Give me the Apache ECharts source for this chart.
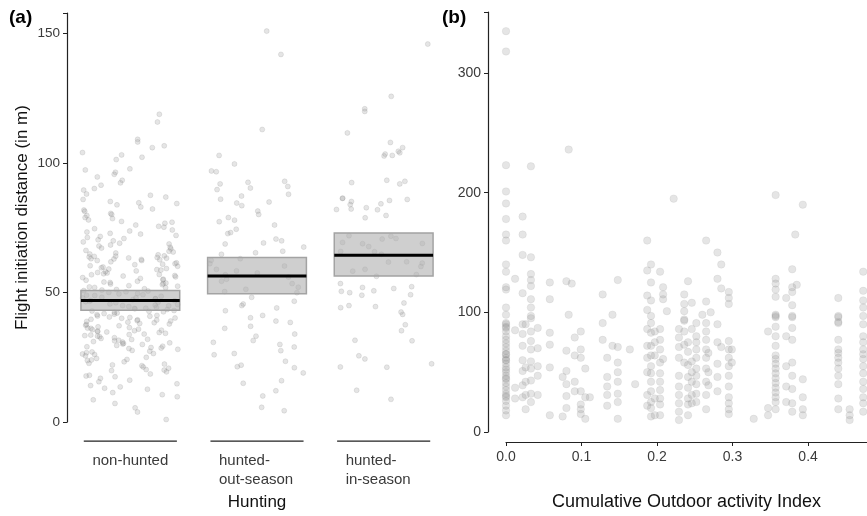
<!DOCTYPE html>
<html>
<head>
<meta charset="utf-8">
<script src="https://cdn.jsdelivr.net/npm/echarts@6/dist/echarts.min.js"></script>
<style>
  html, body { margin: 0; padding: 0; background: #fff; }
  #chart { width: 867px; height: 516px; }
</style>
</head>
<body>
<div id="chart"></div>
<script>
// panel (a): hunting categories
const categories = ['non-hunted', 'hunted-\nout-season', 'hunted-\nin-season'];

// FID, one list per category
const fidNonHunted = [
  118.9, 115.9, 109.2, 108.2, 106.7, 106.0, 104.1, 103.2, 102.3, 101.4, 97.8, 97.4, 96.5, 95.7, 94.7, 93.4, 92.4, 91.5, 90.2, 89.6,
  88.1, 87.6, 86.9, 86.0, 85.2, 84.7, 84.4, 83.9, 83.1, 82.3, 81.9, 81.4, 80.6, 80.2, 79.8, 79.0, 78.6, 78.1, 77.5, 77.2,
  76.8, 76.1, 75.6, 75.3, 74.7, 74.2, 73.8, 73.4, 72.9, 72.6, 72.1, 71.7, 71.3, 70.9, 70.4, 70.0, 69.6, 69.1, 68.8, 68.4,
  68.0, 67.5, 67.2, 66.9, 66.3, 66.0, 65.7, 65.3, 64.9, 64.6, 64.1, 63.8, 63.4, 63.0, 62.7, 62.4,
  64.2, 63.1, 61.5, 61.2, 60.8, 59.3, 58.9, 58.7, 57.6, 56.4, 56.1, 55.8, 54.1, 53.7, 53.5, 52.2, 51.9, 50.3, 50.1, 49.7,
  48.2, 47.9, 47.3, 46.5, 45.2, 44.9, 44.6, 43.1, 42.8, 41.7, 41.2, 40.4, 39.5, 38.9, 38.1, 37.7, 36.2, 35.9, 35.1, 34.3,
  33.6, 33.2, 32.0, 31.4, 30.2, 29.6, 28.4, 27.1, 26.5, 25.0, 23.8, 22.7, 21.3, 19.9, 18.6, 16.2, 14.8, 13.1, 11.4, 7.2, 3.9,
  63.6, 62.4, 60.2, 59.9, 58.1, 57.3, 56.9, 55.2, 54.8, 53.1, 52.7, 51.5, 51.0, 49.2, 48.6, 48.0, 46.9, 46.1, 45.6, 44.0,
  43.5, 42.4, 41.9, 40.9, 40.1, 39.0, 38.4, 37.2, 36.8, 35.5, 34.8, 34.0, 33.0, 31.9, 31.1, 30.6, 29.1, 28.8, 27.7, 26.1,
  24.6, 24.2, 22.1, 20.8, 19.4, 17.5, 15.6, 12.7, 9.8,
  64.0, 62.8, 61.9, 60.4, 59.6, 58.4, 57.0, 55.5, 54.4, 53.9, 52.5, 51.2, 50.6, 49.5, 48.9, 47.6, 47.0, 46.3, 45.0, 44.3,
  43.8, 42.6, 42.1, 41.0, 40.6, 39.7, 39.2, 38.6, 37.4, 36.5, 35.7, 35.3, 34.6, 33.4, 32.6, 31.6, 30.9, 30.0, 29.3, 28.1,
  27.4, 26.8, 25.6, 23.3, 21.8, 20.3, 18.1, 16.9, 14.1, 10.6, 5.5,
  63.3, 61.0, 59.1, 57.8, 56.6, 55.0, 53.3, 52.0, 50.8, 49.0, 47.7, 46.7, 45.4, 43.9, 42.9, 41.5, 40.2, 39.4, 37.9, 36.3,
  35.0, 33.8, 32.3, 30.4, 28.6, 26.3, 24.0, 22.4, 20.1, 17.8, 13.6, 8.6, 1.0
];
const fidOutSeason = [
  151, 142, 113, 103, 99.7, 97, 96.7, 93, 92.6, 92, 91, 90.4, 89.8, 88, 87.3, 86.1, 85, 84.6, 83.6, 81.5,
  80.2, 79, 78, 77.4, 76.1, 74.5, 73.2, 72.8, 70.7, 70, 69.2, 68.8, 67.6, 66, 65.4, 64.8, 63.1, 62.5, 61.2, 60.3,
  59, 58.4, 57.6, 56.9, 56, 55.2, 54.4, 53.5, 52.1, 51.3, 50.4, 50, 48.2, 46.7, 45.6, 45, 44.1, 43, 41.2, 40.3,
  39, 38.5, 37, 36.2, 34, 33.2, 31.5, 30.8, 30, 29, 27.6, 26.5, 26, 23.5, 22, 21.4, 21, 19, 16, 15, 12.1, 10.1, 5.7, 4.4
];
const fidInSeason = [
  146, 125.8, 121, 120, 111.7, 108, 106, 104.6, 104, 103.5, 103, 102.8, 93, 93.4, 92.5, 92, 86, 85.6, 82, 82.8,
  86.4, 82.3, 82.1, 84, 86.5, 85.2, 84.3, 79.8, 78.9, 71.8, 70.7, 70.9, 69, 68.9, 69.4, 72, 67.8, 65.8, 64.8, 65.9,
  61.9, 61.4, 61.8, 60.1, 58.3, 56.3, 59, 57, 53.5, 52.3, 49, 49.2, 50.5, 51.6, 52, 50.7, 50, 46, 44.2, 45,
  44.6, 41.6, 42.5, 35.3, 37.6, 31.6, 31.4, 25.6, 22.5, 21.3, 24.4, 21.2, 12.3, 8.8
];
// model estimate and confidence band per category
const fidMean = [47.0, 56.4, 64.4];
const fidLow = [43.2, 49.6, 56.4];
const fidHigh = [50.8, 63.6, 73.0];

// panel (b): outdoor activity index per site and the FID values at that site
const siteIndex = [
  0.000, 0.012, 0.022, 0.026, 0.033, 0.042, 0.058, 0.075, 0.080, 0.083,
  0.087, 0.091, 0.099, 0.105, 0.111, 0.128, 0.134, 0.141, 0.148, 0.164,
  0.171, 0.187, 0.192, 0.197, 0.204, 0.208, 0.213, 0.222, 0.229, 0.236,
  0.241, 0.246, 0.252, 0.260, 0.265, 0.268, 0.271, 0.280, 0.285, 0.295,
  0.299, 0.328, 0.347, 0.357, 0.371, 0.379, 0.383, 0.385, 0.393, 0.440,
  0.455, 0.473
];
const siteFid = [
  [335, 318, 223, 201, 191, 178, 165, 160, 140, 134, 121, 119, 104, 98, 91, 90, 88, 87, 84, 80, 77, 74, 71, 68, 65, 65, 62, 60, 60, 57, 54, 52, 50, 47, 45, 44, 41, 38, 35, 32, 30, 29, 26, 22, 18, 14],
  [128, 85, 37, 28],
  [180, 165, 148, 116, 90, 82, 72, 60, 51, 39, 29],
  [90, 54, 42, 31, 19],
  [222, 146, 132, 127, 122, 111, 104, 97, 95, 84, 76, 69, 59, 53, 43, 32, 25],
  [87, 70, 55, 47, 31],
  [125, 111, 83, 73, 54, 14],
  [46, 13],
  [126, 68, 51, 40, 30, 20],
  [236, 98],
  [124],
  [79, 64, 42, 34],
  [84, 69, 62, 34, 23, 19, 15],
  [53, 29, 11],
  [29],
  [115, 91, 77],
  [62, 46, 38, 31, 22],
  [98, 72],
  [127, 71, 58, 50, 42, 32, 25, 11],
  [69],
  [40],
  [160, 135, 114, 102, 86, 72, 62, 50, 31, 22],
  [140, 125, 110, 97, 91, 83, 72, 64, 55, 49, 42, 34, 25, 20, 13],
  [84, 75, 64, 28, 14],
  [134, 86, 77, 69, 58, 49, 42, 35, 28, 23, 14],
  [121, 115, 111, 61],
  [101],
  [195],
  [86, 79, 71, 62, 47, 38, 31, 24, 17, 10],
  [115, 107, 101, 94, 93, 84, 73, 58],
  [126, 75, 67, 56, 46, 37, 28, 23, 14],
  [108, 86, 59, 50, 42, 31, 24],
  [91, 80, 75, 69, 62, 53, 47, 40, 32, 25],
  [98],
  [160, 109, 91, 84, 77, 69, 62, 53, 42, 31, 19],
  [66, 50, 39],
  [100],
  [150, 128, 90, 75, 57, 46, 34],
  [140, 120, 71],
  [117, 112, 107, 76, 69, 62, 55, 47, 38, 29, 24, 19, 15],
  [69, 58],
  [11],
  [84, 20, 14],
  [198, 128, 124, 119, 113, 98, 97, 96, 88, 80, 72, 64, 61, 57, 53, 49, 45, 41, 37, 33, 29, 25, 19],
  [112, 80, 55, 38, 25],
  [136, 121, 117, 106, 97, 96, 87, 77, 58, 47, 36, 24, 17],
  [165],
  [123],
  [190, 44, 29, 19, 14],
  [112, 97, 96, 92, 91, 77, 69, 66, 62, 58, 53, 47, 40, 28, 19],
  [19, 14, 10],
  [134, 118, 110, 104, 97, 90, 80, 75, 69, 65, 61, 55, 49, 42, 36, 29, 24, 17]
];

const yTicksA = [0, 50, 100, 150];
const yTicksB = [0, 100, 200, 300];

const font = "'Liberation Sans', Arial, sans-serif";
const tickColor = '#3a3a3a';

// build the data the series want
let pointsA = [];
[fidNonHunted, fidOutSeason, fidInSeason].forEach((list, i) => {
  list.forEach(v => pointsA.push([i, v]));
});
let boxes = fidMean.map((m, i) => [i, fidLow[i], m, fidHigh[i]]);
let pointsB = [];
siteIndex.forEach((x, i) => {
  siteFid[i].forEach(v => pointsB.push([x, v]));
});

var chart = echarts.init(document.getElementById('chart'));

var option = {
  animation: false,
  textStyle: { fontFamily: font },
  grid: [
    { left: 67, top: 13, width: 380, height: 417 },
    { left: 506, top: 12, right: 0, height: 425 }
  ],
  xAxis: [
    {
      gridIndex: 0,
      type: 'category',
      data: categories,
      jitter: 96,
      axisLine: { show: false },
      axisTick: { show: false },
      axisLabel: {
        margin: 29,
        fontSize: 15,
        color: tickColor,
        lineHeight: 19,
        formatter: v => v.indexOf('\n') < 0 ? v : v.split('\n').map(s => '{l|' + s + '}').join('\n'),
        rich: { l: { width: 76, align: 'left', fontSize: 15, color: tickColor, lineHeight: 19 } }
      },
      name: 'Hunting',
      nameLocation: 'middle',
      nameGap: 69,
      nameTextStyle: { fontSize: 17, color: '#111' }
    },
    {
      gridIndex: 1,
      type: 'value',
      min: 0,
      max: 0.478,
      interval: 0.1,
      offset: 10,
      splitLine: { show: false },
      axisLine: { show: true, onZero: false, lineStyle: { color: '#222', width: 1.2 } },
      axisTick: { show: true, length: 4, lineStyle: { color: '#222' } },
      axisLabel: { fontSize: 14, color: tickColor, margin: 8, showMaxLabel: false, formatter: v => v.toFixed(1) },
      name: 'Cumulative Outdoor activity Index',
      nameLocation: 'middle',
      nameGap: 51,
      nameTextStyle: { fontSize: 18, color: '#111' }
    }
  ],
  yAxis: [
    {
      gridIndex: 0,
      type: 'value',
      min: 0,
      max: 158,
      interval: 50,
      splitLine: { show: false },
      axisLine: { show: true, onZero: false, lineStyle: { color: '#222', width: 1.2 } },
      axisTick: { show: true, length: 4, lineStyle: { color: '#222' } },
      axisLabel: { fontSize: 13.5, color: tickColor, margin: 7, formatter: v => yTicksA.includes(v) ? v : '' },
      name: 'Flight initiation distance (in m)',
      nameLocation: 'middle',
      nameGap: 36,
      nameTextStyle: { fontSize: 17, color: '#111' }
    },
    {
      gridIndex: 1,
      type: 'value',
      min: 0,
      max: 351,
      interval: 100,
      offset: 18,
      splitLine: { show: false },
      axisLine: { show: true, onZero: false, lineStyle: { color: '#222', width: 1.2 } },
      axisTick: { show: true, length: 4, lineStyle: { color: '#222' } },
      axisLabel: { fontSize: 14, color: tickColor, margin: 7, formatter: v => yTicksB.includes(v) ? v : '' }
    }
  ],
  graphic: [
    { type: 'text', left: 9, top: 8, style: { text: '(a)', font: 'bold 19px ' + font, fill: '#000' } },
    { type: 'text', left: 442, top: 8, style: { text: '(b)', font: 'bold 19px ' + font, fill: '#000' } }
  ],
  series: [
    {
      type: 'scatter',
      xAxisIndex: 0,
      yAxisIndex: 0,
      data: pointsA,
      symbolSize: 5,
      clip: false,
      silent: true,
      itemStyle: { color: 'rgba(150,150,150,0.3)', borderColor: 'rgba(110,110,110,0.3)', borderWidth: 0.6 }
    },
    {
      // confidence box and mean line
      type: 'custom',
      xAxisIndex: 0,
      yAxisIndex: 0,
      z: 5,
      data: boxes,
      renderItem: function (params, api) {
        let lo = api.coord([api.value(0), api.value(1)]);
        let mid = api.coord([api.value(0), api.value(2)]);
        let hi = api.coord([api.value(0), api.value(3)]);
        let w = api.size([1, 0])[0] * 0.78;
        return {
          type: 'group',
          children: [
            { type: 'rect', shape: { x: lo[0] - w / 2, y: hi[1], width: w, height: lo[1] - hi[1] },
              style: { fill: 'rgba(175,175,175,0.6)', stroke: '#a3a3a3', lineWidth: 1.5 } },
            { type: 'line', shape: { x1: lo[0] - w / 2, y1: mid[1], x2: lo[0] + w / 2, y2: mid[1] },
              style: { stroke: '#000', lineWidth: 3 } }
          ]
        };
      }
    },
    {
      // capped axis segments under each category
      type: 'custom',
      xAxisIndex: 0,
      yAxisIndex: 0,
      data: [0, 1, 2].map(i => [i, 0]),
      renderItem: function (params, api) {
        let p = api.coord([api.value(0), 0]);
        let w = api.size([1, 0])[0] * 0.735;
        return { type: 'line', shape: { x1: p[0] - w / 2, y1: p[1] + 19, x2: p[0] + w / 2, y2: p[1] + 19 },
          style: { stroke: '#222', lineWidth: 1.2 } };
      }
    },
    {
      type: 'scatter',
      xAxisIndex: 1,
      yAxisIndex: 1,
      data: pointsB,
      symbolSize: 7.5,
      clip: false,
      silent: true,
      itemStyle: { color: 'rgba(140,140,140,0.28)', borderColor: 'rgba(120,120,120,0.2)', borderWidth: 0.6 }
    }
  ]
};
option && chart.setOption(option);
</script>
</body>
</html>
